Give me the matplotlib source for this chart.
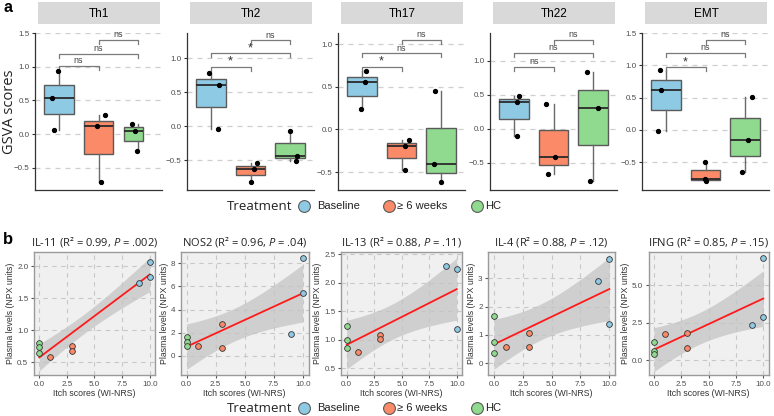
import numpy as np
import matplotlib
matplotlib.use("Agg")
import matplotlib.pyplot as plt
from matplotlib.lines import Line2D

plt.rcParams['font.family'] = ['Liberation Sans', 'DejaVu Sans']
plt.rcParams['mathtext.fontset'] = 'custom'
plt.rcParams['mathtext.it'] = 'Open Sans:italic'
plt.rcParams['mathtext.rm'] = 'Open Sans'

W, H = 774, 416

groups = ["Baseline", "≥ 6 weeks", "HC"]
group_colors = ["#8FCAE5", "#FA8A68", "#8FDA8F"]

# ---- panel a: GSVA scores (Baseline, >= 6 weeks, HC), 3 samples each
gsva_panels = ["Th1", "Th2", "Th17", "Th22", "EMT"]
th1 = [[0.93, 0.53, 0.06], [0.28, 0.12, -0.71], [0.15, 0.05, -0.25]]
th2 = [[0.78, 0.61, -0.04], [-0.55, -0.63, -0.82], [-0.07, -0.44, -0.51]]
th17 = [[0.68, 0.55, 0.24], [-0.12, -0.19, -0.47], [0.45, -0.41, -0.62]]
th22 = [[0.49, 0.40, -0.11], [0.37, -0.41, -0.66], [0.84, 0.30, -0.77]]
emt = [[0.92, 0.62, -0.01], [-0.49, -0.76, -0.79], [0.51, -0.15, -0.65]]
gsva_data = [th1, th2, th17, th22, emt]

bracket_pairs = [(1, 2), (1, 3), (2, 3)]
gsva_signif = [["ns", "ns", "ns"], ["*", "*", "ns"], ["*", "ns", "ns"],
               ["ns", "ns", "ns"], ["*", "ns", "ns"]]
gsva_bracket_y = [[1.01, 1.19, 1.40], [0.87, 1.07, 1.26], [0.73, 0.89, 1.05],
                  [0.91, 1.12, 1.31], [0.97, 1.19, 1.39]]
gsva_ylim = [(-0.83, 1.5), (-0.94, 1.37), (-0.71, 1.13), (-0.90, 1.41), (-0.93, 1.5)]
gsva_yticks = [[-0.5, 0, 0.5, 1.0, 1.5], [-0.5, 0, 0.5, 1.0], [-0.5, 0, 0.5, 1.0],
               [-0.5, 0, 0.5, 1.0], [-0.5, 0, 0.5, 1.0, 1.5]]

# horizontal jitter of the dots, as it appears in the figure
jitter = [
    [[-0.03, -0.16, -0.12], [0.17, -0.03, 0.06], [-0.15, -0.08, -0.02]],
    [[-0.04, 0.20, 0.18], [0.17, 0.08, 0.0], [0.0, 0.17, 0.15]],
    [[0.11, 0.08, -0.03], [0.18, 0.09, 0.09], [-0.15, -0.17, 0.0]],
    [[0.13, 0.07, 0.07], [-0.18, 0.03, -0.13], [-0.15, 0.12, -0.07]],
    [[-0.15, -0.13, -0.2], [-0.02, -0.02, 0.0], [0.17, 0.08, -0.09]],
]

# ---- panel b: plasma levels vs itch scores
itch_baseline = [9, 10, 10]
itch_6wk = [1, 3, 3]
itch_hc = [0, 0, 0]
npx_titles = ["IL-11 (R² = 0.99, $\\mathit{P}$ = .002)",
              "NOS2 (R² = 0.96, $\\mathit{P}$ = .04)",
              "IL-13 (R² = 0.88, $\\mathit{P}$ = .11)",
              "IL-4 (R² = 0.88, $\\mathit{P}$ = .12)",
              "IFNG (R² = 0.85, $\\mathit{P}$ = .15)"]
il11 = [[1.73, 2.07, 1.83], [0.58, 0.76, 0.68], [0.80, 0.73, 0.645]]
nos2 = [[1.86, 8.49, 5.42], [0.81, 2.78, 0.64], [1.59, 1.22, 0.87]]
il13 = [[2.30, 2.24, 1.19], [0.79, 1.09, 1.01], [1.235, 1.00, 0.86]]
il4 = [[2.90, 3.68, 1.40], [0.59, 1.08, 0.58], [1.68, 0.76, 0.35]]
ifng = [[2.37, 6.83, 2.88], [1.76, 1.81, 0.80], [1.20, 0.60, 0.45]]
npx_data = [il11, nos2, il13, il4, ifng]
npx_ylim = [(0.30, 2.22), (-1.68, 8.99), (0.38, 2.54), (-0.41, 3.92), (-0.98, 7.23)]
npx_yticks = [[0.5, 1.0, 1.5, 2.0], [0, 2, 4, 6, 8], [0.5, 1.0, 1.5, 2.0, 2.5],
              [0, 1, 2, 3], [0.0, 2.5, 5.0]]
itch_ticks = [0.0, 2.5, 5.0, 7.5, 10.0]


def px_box(l, t, r, b):
    return [l / W, 1 - b / H, (r - l) / W, (b - t) / H]


fig = plt.figure(figsize=(W / 100, H / 100), dpi=100)

# ---------- top row ----------
top_left = [35, 187, 338, 490, 642]
top_w = 127
for i, name in enumerate(gsva_panels):
    l = top_left[i]
    ax = fig.add_axes(px_box(l, 33, l + top_w, 190))
    strip = fig.add_axes(px_box(l + 3, 2, l + top_w - 2, 24))
    strip.set_facecolor("#D9D9D9")
    for s in strip.spines.values():
        s.set_visible(False)
    strip.set_xticks([])
    strip.set_yticks([])
    strip.text(0.5, 0.45, name, ha="center", va="center", fontsize=8.5, transform=strip.transAxes)

    for g in range(3):
        vals = gsva_data[i][g]
        pos, wid = g + 1, 0.75
        if i == 0 and g == 2:
            pos, wid = 2.88, 0.5
        bp = ax.boxplot([vals], positions=[pos], widths=wid, whis=(0, 100), patch_artist=True,
                        showfliers=False, showcaps=False,
                        boxprops=dict(facecolor=group_colors[g], edgecolor="#5A5A5A", lw=1),
                        medianprops=dict(color="#2A2A2A", lw=1.3),
                        whiskerprops=dict(color="#6A6A6A", lw=1))
        if i == 0 and g == 2:
            for wl in bp["whiskers"]:
                wl.set_xdata([3, 3])
        ax.plot(np.array(jitter[i][g]) + g + 1, vals, "o", color="black", ms=2.8, zorder=5)

    ymin, ymax = gsva_ylim[i]
    tip = 0.025 * (ymax - ymin)
    for (x1, x2), yb, lab in zip(bracket_pairs, gsva_bracket_y[i], gsva_signif[i]):
        ax.plot([x1, x1, x2, x2], [yb - tip, yb, yb, yb - tip], color="#7A7A7A", lw=0.9, clip_on=False)
        if lab == "*":
            ax.text((x1 + x2) / 2, yb - 0.2 * tip, lab, ha="center", va="bottom", fontsize=9,
                    color="#333333", clip_on=False)
        else:
            ax.text((x1 + x2) / 2, yb + 0.2 * tip, lab, ha="center", va="bottom", fontsize=6.5,
                    color="#444444", clip_on=False)

    ax.set_xlim(0.4, 3.6)
    ax.set_ylim(ymin, ymax)
    ax.set_yticks(gsva_yticks[i])
    ax.set_xticks([])
    ax.yaxis.grid(True, ls=(0, (4, 4)), color="#CFCFCF", lw=0.9)
    ax.set_axisbelow(True)
    for s in ["top", "right"]:
        ax.spines[s].set_visible(False)
    for s in ["left", "bottom"]:
        ax.spines[s].set_color("#333333")
        ax.spines[s].set_linewidth(0.9)
    ax.tick_params(axis="y", labelsize=5.8, labelcolor="#4D4D4D", length=2.5, color="#333333", pad=1.5)

fig.text(10 / W, 1 - 112 / H, "GSVA scores", rotation=90, ha="center", va="center",
         fontsize=10.5, family="Open Sans", color="#222222")
fig.text(3 / W, 1 - 8 / H, "a", ha="left", va="center", fontsize=11.5, weight="bold")


# ---------- legend rows ----------
def draw_legend(yc):
    y = 1 - yc / H
    fig.text(227 / W, y, "Treatment", ha="left", va="center", fontsize=9.5, family="Open Sans",
             color="#222222")
    for cx, tx, lab, col in zip([304, 389, 477], [317, 397, 485], groups, group_colors):
        fig.add_artist(Line2D([cx / W], [y], marker="o", ms=8.5, mfc=col, mec="#5A5A5A",
                              mew=0.8, transform=fig.transFigure))
        fig.text(tx / W, y, lab, ha="left", va="center", fontsize=8, color="#222222")


draw_legend(206)
draw_legend(408)

# ---------- bottom row ----------
bot_left = [33.8, 180.9, 341.2, 488.2, 648.5]
bot_right = [155.2, 308.5, 462.2, 615.1, 768.8]
itch_groups = [itch_baseline, itch_6wk, itch_hc]
tcrit = 2.365  # t(0.975, df = 7)
for i, title in enumerate(npx_titles):
    ax = fig.add_axes(px_box(bot_left[i], 252, bot_right[i], 375))
    ax.set_facecolor("#F0F0F0")
    xs = np.concatenate([np.array(v, float) for v in itch_groups])
    ys = np.concatenate([np.array(v, float) for v in npx_data[i]])
    slope, icpt = np.polyfit(xs, ys, 1)
    n = len(xs)
    resid = ys - (slope * xs + icpt)
    s = np.sqrt(np.sum(resid ** 2) / (n - 2))
    xg = np.linspace(xs.min(), xs.max(), 100)
    se = s * np.sqrt(1 / n + (xg - xs.mean()) ** 2 / np.sum((xs - xs.mean()) ** 2))
    yfit = slope * xg + icpt
    ax.fill_between(xg, yfit - tcrit * se, yfit + tcrit * se, color="#C4C4C4", alpha=0.75, lw=0, zorder=2)
    ax.plot(xg, yfit, color="#FF1A1A", lw=1.3, zorder=3)
    for g in [2, 1, 0]:
        ax.scatter(itch_groups[g], npx_data[i][g], s=17, color=group_colors[g], edgecolors="#333333",
                   linewidths=0.6, zorder=4)
    ax.set_xlim(-0.5, 10.5)
    ax.set_ylim(*npx_ylim[i])
    ax.set_xticks(itch_ticks)
    ax.set_yticks(npx_yticks[i])
    ax.grid(True, ls=(0, (4, 4)), color="#C8C8C8", lw=0.8)
    ax.set_axisbelow(True)
    for sp in ax.spines.values():
        sp.set_color("#9A9A9A")
        sp.set_linewidth(1)
    ax.tick_params(labelsize=5.8, labelcolor="#4D4D4D", length=2.5, color="#555555", pad=1.5)
    ax.set_xlabel("Itch scores (WI-NRS)", fontsize=6.3, color="#333333", labelpad=1)
    ax.set_ylabel("Plasma levels (NPX units)", fontsize=6.3, color="#333333", labelpad=1.5)
    ax.set_title(title, fontsize=8, family="Open Sans", color="#222222", pad=5)

fig.text(3 / W, 1 - 240 / H, "b", ha="left", va="center", fontsize=12, weight="bold")

fig.savefig("out.png", dpi=100)
